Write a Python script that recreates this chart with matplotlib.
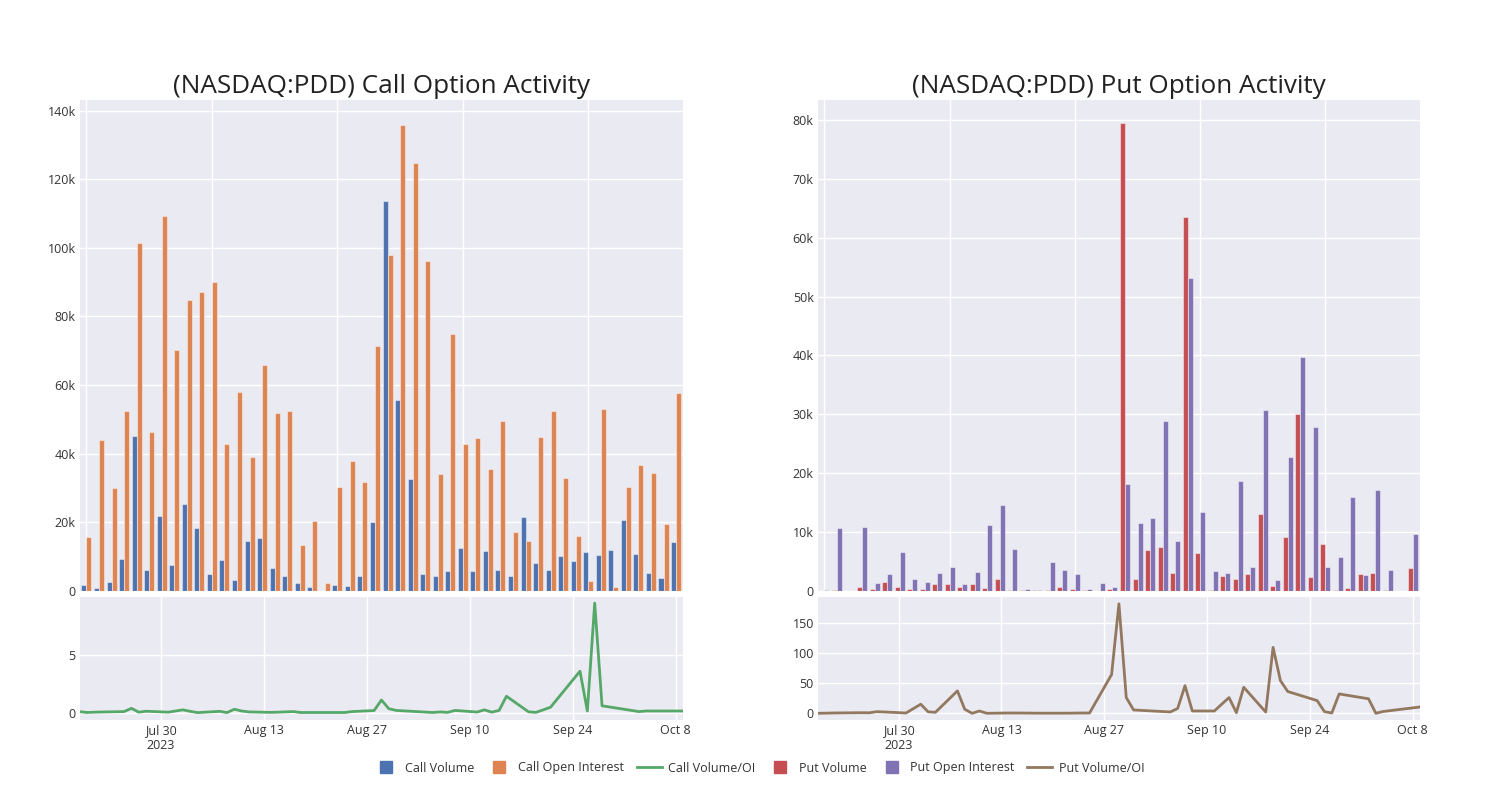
import matplotlib

matplotlib.use("Agg")
import matplotlib.pyplot as plt
import numpy as np
import pandas as pd
from matplotlib.lines import Line2D
from matplotlib.ticker import FuncFormatter, MultipleLocator

# trading dates shown in the chart
dates = [
    "2023-07-19", "2023-07-20", "2023-07-21", "2023-07-25", "2023-07-26", "2023-07-27",
    "2023-07-28", "2023-07-31", "2023-08-02", "2023-08-03", "2023-08-04", "2023-08-07",
    "2023-08-08", "2023-08-09", "2023-08-10", "2023-08-11", "2023-08-14", "2023-08-15",
    "2023-08-17", "2023-08-18", "2023-08-22", "2023-08-24", "2023-08-25", "2023-08-28",
    "2023-08-29", "2023-08-30", "2023-08-31", "2023-09-05", "2023-09-06", "2023-09-07",
    "2023-09-08", "2023-09-11", "2023-09-12", "2023-09-13", "2023-09-14", "2023-09-15",
    "2023-09-18", "2023-09-19", "2023-09-20", "2023-09-21", "2023-09-25", "2023-09-26",
    "2023-09-27", "2023-09-28", "2023-10-02", "2023-10-03", "2023-10-04", "2023-10-09",
]

call_volume = [
    1600, 1000, 2500, 9300, 45100, 6000, 21900, 7600, 25400, 18400, 4800, 8900,
    3100, 14500, 15400, 6800, 4500, 2300, 1200, 100, 1600, 1400, 4500, 20100,
    113700, 55700, 32600, 5000, 4500, 5800, 12500, 5800, 11700, 6000, 4400, 21600,
    8100, 6100, 10200, 8800, 11300, 10600, 11800, 20600, 10900, 5300, 3800, 14200,
]
call_oi = [
    15700, 44100, 30100, 52500, 101400, 46200, 109300, 70300, 84700, 87200, 90000, 42800,
    57900, 39100, 65900, 52000, 52400, 13300, 20300, 2400, 30400, 37800, 31700, 71500,
    98000, 135700, 124800, 96200, 34000, 75000, 42800, 44500, 35500, 49400, 17100, 14500,
    45000, 52400, 32900, 16100, 2900, 53000, 1100, 30300, 36800, 34300, 19600, 57600,
]
call_ratio = [
    0.09, 0.02, 0.05, 0.10, 0.38, 0.05, 0.13, 0.05, 0.25, 0.12, 0.01, 0.12,
    0.01, 0.30, 0.15, 0.07, 0.03, 0.05, 0.10, 0.02, 0.02, 0.02, 0.10, 0.19,
    1.10, 0.35, 0.20, 0.02, 0.07, 0.03, 0.20, 0.06, 0.25, 0.05, 0.20, 1.43,
    0.08, 0.03, 0.25, 0.48, 3.60, 0.15, 9.50, 0.60, 0.20, 0.10, 0.15, 0.15,
]

put_volume = [
    0, 200, 0, 600, 300, 1600, 700, 400, 300, 1200, 1100, 600,
    1200, 500, 2100, 100, 200, 100, 200, 700, 350, 100, 50, 350,
    79500, 2000, 7000, 7400, 3100, 63500, 6400, 200, 2600, 2000, 2900, 13000,
    800, 9100, 30100, 2300, 7900, 200, 450, 2900, 3100, 200, 0, 3900,
]
put_oi = [
    200, 10700, 0, 10800, 1400, 2900, 6700, 2000, 1600, 3000, 4100, 1200,
    3300, 11200, 14600, 7200, 400, 100, 4900, 3500, 2800, 300, 1300, 700,
    18100, 11500, 12400, 28900, 8500, 53100, 13400, 3400, 3100, 18600, 4100, 30700,
    1900, 22800, 39800, 27800, 4100, 5700, 15900, 2700, 17100, 3600, 0, 9700,
]
put_ratio = [
    0.0, 0.2, 0.5, 1.0, 0.8, 2.7, 2.2, 0.5, 15.0, 2.5, 1.6, 37.0,
    6.6, 0.0, 3.8, 0.0, 0.5, 0.5, 0.3, 0.2, 0.2, 0.5, 0.5, 64.0,
    181.0, 26.0, 5.5, 2.2, 8.0, 45.6, 3.8, 3.8, 15.0, 26.0, 1.0, 43.0,
    2.0, 109.0, 54.0, 36.0, 21.0, 2.7, 0.5, 32.0, 24.0, 0.0, 3.0, 10.4,
]

tick_dates = ["2023-07-30", "2023-08-13", "2023-08-27", "2023-09-10", "2023-09-24", "2023-10-08"]
tick_labels = ["Jul 30\n2023", "Aug 13", "Aug 27", "Sep 10", "Sep 24", "Oct 8"]

BG = "#EAEAF2"
C_BLUE, C_ORANGE, C_GREEN = "#4C72B0", "#DD8452", "#55A868"
C_RED, C_PURPLE, C_BROWN = "#C44E52", "#8172B3", "#937860"
FONT = ["Open Sans", "DejaVu Sans"]

plt.rcParams["font.family"] = FONT
plt.rcParams["font.size"] = 9

x_dates = pd.to_datetime(dates)
x_idx = np.arange(len(dates))
x_ticks = pd.to_datetime(tick_dates)
x_lim = (pd.Timestamp("2023-07-19"), pd.Timestamp("2023-10-09"))


def k_fmt(v, _pos):
    return "0" if v == 0 else f"{int(round(v / 1000))}k"


def style(ax):
    ax.set_facecolor(BG)
    for s in ax.spines.values():
        s.set_visible(False)
    ax.grid(True, color="white", linewidth=1.0)
    ax.set_axisbelow(True)
    ax.tick_params(length=0, labelsize=9, colors="#333333", pad=3)


def bar_panel(ax, vol, oi, c1, c2, ytop, step, title):
    style(ax)
    w = 0.4
    edge = (1, 1, 1, 0.45)
    ax.bar(x_idx - w / 2, vol, width=w, color=c1, edgecolor=edge, linewidth=0.8)
    ax.bar(x_idx + w / 2, oi, width=w, color=c2, edgecolor=edge, linewidth=0.8)
    ax.set_xlim(-0.52, 47.55)
    ax.set_ylim(0, ytop)
    ax.xaxis.set_major_locator(MultipleLocator(10))
    ax.set_xticklabels([])
    ax.yaxis.set_major_locator(MultipleLocator(step))
    ax.yaxis.set_major_formatter(FuncFormatter(k_fmt))
    ax.set_title(title, fontsize=18.8, color="#222222", pad=5)


def line_panel(ax, ratio, color, ylim, ticks):
    style(ax)
    ax.plot(x_dates, ratio, color=color, linewidth=2.0)
    ax.set_xlim(*x_lim)
    ax.set_ylim(*ylim)
    ax.set_yticks(ticks)
    ax.set_xticks(x_ticks)
    ax.set_xticklabels(tick_labels)


fig = plt.figure(figsize=(15, 8), dpi=100)

ax1 = fig.add_axes([0.0533, 0.2613, 0.402, 0.6137])
ax2 = fig.add_axes([0.0533, 0.1, 0.402, 0.1537])
ax3 = fig.add_axes([0.5453, 0.2613, 0.4013, 0.6137])
ax4 = fig.add_axes([0.5453, 0.1, 0.4013, 0.1537])

bar_panel(ax1, call_volume, call_oi, C_BLUE, C_ORANGE, 143100, 20000,
          "(NASDAQ:PDD) Call Option Activity")
line_panel(ax2, call_ratio, C_GREEN, (-0.63, 10.03), [0, 5])
bar_panel(ax3, put_volume, put_oi, C_RED, C_PURPLE, 83400, 10000,
          "(NASDAQ:PDD) Put Option Activity")
line_panel(ax4, put_ratio, C_BROWN, (-11.1, 192.2), [0, 50, 100, 150])

handles = [
    Line2D([], [], marker="s", linestyle="none", markersize=9, color=C_BLUE),
    Line2D([], [], marker="s", linestyle="none", markersize=9, color=C_ORANGE),
    Line2D([], [], color=C_GREEN, linewidth=2.0),
    Line2D([], [], marker="s", linestyle="none", markersize=9, color=C_RED),
    Line2D([], [], marker="s", linestyle="none", markersize=9, color=C_PURPLE),
    Line2D([], [], color=C_BROWN, linewidth=2.0),
]
labels = ["Call Volume", "Call Open Interest", "Call Volume/OI",
          "Put Volume", "Put Open Interest", "Put Volume/OI"]
fig.legend(handles, labels, loc="center", bbox_to_anchor=(0.506, 0.04), ncol=6,
           frameon=False, fontsize=9, handlelength=2.0, handletextpad=0.5,
           columnspacing=1.0, labelcolor="#333333")

fig.savefig("out.png", dpi=100, facecolor="white")
